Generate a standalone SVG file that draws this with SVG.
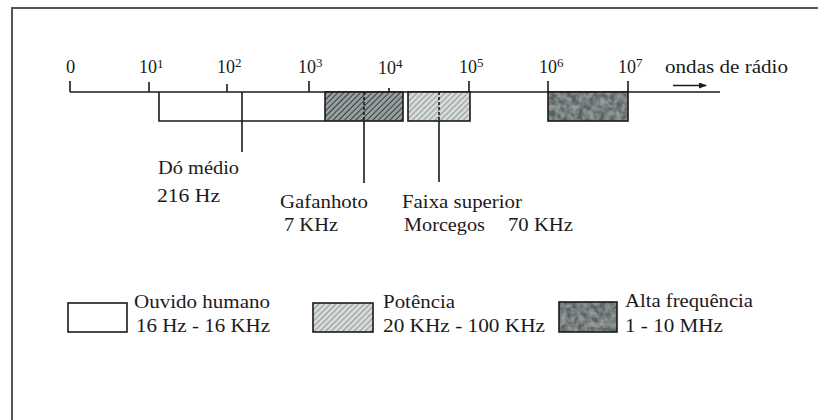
<svg xmlns="http://www.w3.org/2000/svg" width="818" height="420" viewBox="0 0 818 420">
<style>
.ln{stroke:#1a1a1a;stroke-width:1.6;fill:none}
.box{stroke:#1a1a1a;stroke-width:1.6}
</style>
<defs>
<pattern id="hd" patternUnits="userSpaceOnUse" width="4" height="4" patternTransform="rotate(45)">
<rect width="4" height="4" fill="#96a0a0"/>
<line x1="0" y1="0" x2="0" y2="4" stroke="#2b3232" stroke-width="1.8"/>
</pattern>
<pattern id="hl" patternUnits="userSpaceOnUse" width="4" height="4" patternTransform="rotate(45)">
<rect width="4" height="4" fill="#d6dada"/>
<line x1="0" y1="0" x2="0" y2="4" stroke="#7f8888" stroke-width="1.6"/>
</pattern>
<filter id="mottle" x="0" y="0" width="1" height="1">
<feTurbulence type="fractalNoise" baseFrequency="0.18" numOctaves="2" seed="3" result="n"/>
<feColorMatrix in="n" type="matrix" values="0 0 0 0 1  0 0 0 0 1  0 0 0 0 1  0.5 0 0 0 -0.15" result="w"/>
<feComposite in="w" in2="SourceGraphic" operator="in" result="wc"/>
<feMerge><feMergeNode in="SourceGraphic"/><feMergeNode in="wc"/></feMerge>
</filter>
<marker id="ah" markerWidth="8" markerHeight="6" refX="7" refY="3" orient="auto" markerUnits="userSpaceOnUse">
<path d="M0,0 L8,3 L0,6 Z" fill="#1a1a1a"/>
</marker>
</defs>
<rect width="818" height="420" fill="#fff"/>
<path d="M12,420 V8 H818" stroke="#555" stroke-width="2" fill="none"/>

<g id="axis" font-family="Liberation Serif, DejaVu Serif, serif" fill="#1a1a1a" font-size="18.5">
<line class="ln" x1="70" y1="92" x2="720" y2="92"/>
<line class="ln" x1="70" y1="81" x2="70" y2="92"/>
<line class="ln" x1="149" y1="82" x2="149" y2="92"/>
<line class="ln" x1="227" y1="84" x2="227" y2="92"/>
<line class="ln" x1="309" y1="81" x2="309" y2="92"/>
<line class="ln" x1="389" y1="88" x2="389" y2="92"/>
<line class="ln" x1="469" y1="81" x2="469" y2="92"/>
<line class="ln" x1="548" y1="81" x2="548" y2="92"/>
<line class="ln" x1="628" y1="81" x2="628" y2="92"/>
<text x="66" y="73">0</text>
<text x="139" y="73" textLength="18" lengthAdjust="spacingAndGlyphs">10</text><text font-size="13" x="157" y="68">1</text>
<text x="217" y="73" textLength="18" lengthAdjust="spacingAndGlyphs">10</text><text font-size="13" x="235" y="67">2</text>
<text x="298" y="73" textLength="18" lengthAdjust="spacingAndGlyphs">10</text><text font-size="13" x="316" y="67">3</text>
<text x="378" y="74" textLength="18" lengthAdjust="spacingAndGlyphs">10</text><text font-size="13" x="396" y="68">4</text>
<text x="459" y="73" textLength="18" lengthAdjust="spacingAndGlyphs">10</text><text font-size="13" x="477" y="67">5</text>
<text x="539" y="73" textLength="18" lengthAdjust="spacingAndGlyphs">10</text><text font-size="13" x="557" y="67">6</text>
<text x="618" y="73" textLength="18" lengthAdjust="spacingAndGlyphs">10</text><text font-size="13" x="636" y="67">7</text>
<text x="665" y="73" textLength="123" lengthAdjust="spacingAndGlyphs">ondas de rádio</text>
</g>

<g id="connectors">
<line class="ln" x1="673" y1="85.5" x2="706" y2="85.5" marker-end="url(#ah)"/>
<line class="ln" x1="242" y1="92" x2="242" y2="152"/>
<line class="ln" x1="364" y1="121" x2="364" y2="183"/>
<line class="ln" x1="439" y1="121" x2="439" y2="182"/>
</g>

<g id="ouvido-band">
<path class="ln" d="M159,92 V121 H325"/>
</g>
<g id="potencia-band-1">
<rect class="box" x="325" y="92" width="78" height="29" fill="url(#hd)"/>
<line x1="364" y1="92" x2="364" y2="121" stroke="#1a1a1a" stroke-width="1.6" stroke-dasharray="3,2"/>
</g>
<g id="potencia-band-2">
<rect class="box" x="408" y="92" width="62" height="29" fill="url(#hl)"/>
<line x1="439" y1="92" x2="439" y2="121" stroke="#1a1a1a" stroke-width="1.6" stroke-dasharray="3,2"/>
</g>
<g id="alta-band">
<rect x="548" y="92" width="80" height="29" fill="#5a6463" filter="url(#mottle)"/>
<rect x="548" y="92" width="80" height="29" fill="none" class="box"/>
</g>

<g font-family="Liberation Serif, DejaVu Serif, serif" fill="#1a1a1a" font-size="18.5">
<g id="do-medio">
<text x="158" y="174" textLength="81" lengthAdjust="spacingAndGlyphs">Dó médio</text>
<text x="157" y="202" textLength="63" lengthAdjust="spacingAndGlyphs">216 Hz</text>
</g>
<g id="gafanhoto">
<text x="280" y="208" textLength="88" lengthAdjust="spacingAndGlyphs">Gafanhoto</text>
<text x="284" y="231" textLength="54" lengthAdjust="spacingAndGlyphs">7 KHz</text>
</g>
<g id="morcegos">
<text x="402" y="208" textLength="120" lengthAdjust="spacingAndGlyphs">Faixa superior</text>
<text x="404" y="231" textLength="81" lengthAdjust="spacingAndGlyphs">Morcegos</text>
<text x="508" y="231" textLength="65" lengthAdjust="spacingAndGlyphs">70 KHz</text>
</g>

<g id="legend-ouvido">
<rect class="box" x="68" y="303" width="59" height="29" fill="#fff"/>
<text x="134" y="308" textLength="136" lengthAdjust="spacingAndGlyphs">Ouvido humano</text>
<text x="136" y="332" textLength="134" lengthAdjust="spacingAndGlyphs">16 Hz - 16 KHz</text>
</g>
<g id="legend-potencia">
<rect class="box" x="313" y="303" width="60" height="29" fill="url(#hl)"/>
<text x="383" y="308" textLength="72" lengthAdjust="spacingAndGlyphs">Potência</text>
<text x="383" y="332" textLength="162" lengthAdjust="spacingAndGlyphs">20 KHz - 100 KHz</text>
</g>
<g id="legend-alta">
<rect x="559" y="302" width="58" height="30" fill="#5a6463" filter="url(#mottle)"/>
<rect class="box" x="559" y="302" width="58" height="30" fill="none"/>
<text x="625" y="307" textLength="128" lengthAdjust="spacingAndGlyphs">Alta frequência</text>
<text x="625" y="332" textLength="98" lengthAdjust="spacingAndGlyphs">1 - 10 MHz</text>
</g>
</g>
</svg>
